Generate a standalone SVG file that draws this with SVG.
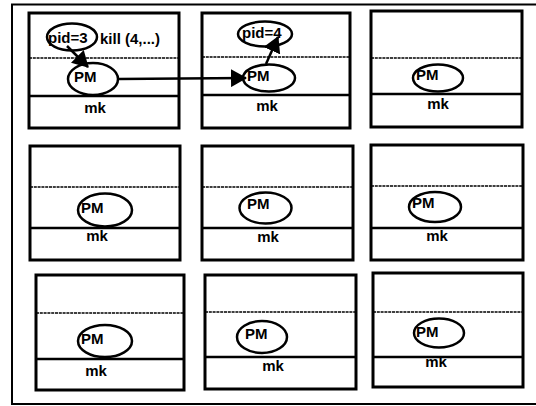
<svg xmlns="http://www.w3.org/2000/svg" width="536" height="406" viewBox="0 0 536 406">
<style>
.frame{fill:none;stroke:#000;stroke-width:2}
.box{fill:#fff;stroke:#000;stroke-width:3}
.dot{stroke:#000;stroke-width:1.6;stroke-dasharray:3 0.8}
.thick{stroke:#000;stroke-width:2.5}
.ell{fill:none;stroke:#000;stroke-width:2.5}
.t{font-family:"Liberation Sans",Arial,sans-serif;font-weight:bold;font-size:15px;fill:#000}
.mk{text-anchor:middle}
.conn{fill:none;stroke:#000;stroke-width:2.5}
</style>
<defs>
<marker id="ahBig" viewBox="0 0 16 18" markerWidth="16" markerHeight="18" refX="15" refY="9" orient="auto" markerUnits="userSpaceOnUse">
<path d="M0,0 L16,9 L0,18 Z" fill="#000"/>
</marker>
</defs>
<rect class="frame" x="12" y="4.5" width="540" height="399.5"/>

<g id="node-r1c1">
<rect class="box" x="29" y="13" width="150" height="115"/>
<line class="dot" x1="29" y1="58" x2="179" y2="58"/>
<line class="thick" x1="29" y1="96" x2="179" y2="96"/>
<ellipse class="ell" cx="72" cy="37" rx="25" ry="13.5"/>
<text class="t" x="48" y="43">pid=3</text>
<text class="t" x="100" y="44">kill (4,...)</text>
<ellipse class="ell" cx="93" cy="79" rx="25" ry="16"/>
<text class="t" x="74" y="82">PM</text>
<text class="t mk" x="95" y="113">mk</text>
</g>

<g id="node-r1c2">
<rect class="box" x="202" y="13" width="148" height="115"/>
<line class="dot" x1="202" y1="57" x2="350" y2="57"/>
<line class="thick" x1="202" y1="95" x2="350" y2="95"/>
<ellipse class="ell" cx="265" cy="34" rx="27" ry="12.5"/>
<text class="t" x="242" y="38">pid=4</text>
<ellipse class="ell" cx="269" cy="78" rx="26" ry="13.5"/>
<text class="t" x="247" y="81">PM</text>
<text class="t mk" x="267" y="111">mk</text>
</g>

<g id="node-r1c3">
<rect class="box" x="371" y="11" width="151" height="116"/>
<line class="dot" x1="371" y1="58" x2="522" y2="58"/>
<line class="thick" x1="371" y1="94" x2="522" y2="94"/>
<ellipse class="ell" cx="438" cy="78" rx="25" ry="13.5"/>
<text class="t" x="416" y="80">PM</text>
<text class="t mk" x="438" y="109">mk</text>
</g>

<g id="node-r2c1">
<rect class="box" x="30" y="146" width="150" height="114"/>
<line class="dot" x1="30" y1="187" x2="180" y2="187"/>
<line class="thick" x1="30" y1="228" x2="180" y2="228"/>
<ellipse class="ell" cx="105" cy="210" rx="27" ry="16.5"/>
<text class="t" x="81" y="213">PM</text>
<text class="t mk" x="97" y="241">mk</text>
</g>

<g id="node-r2c2">
<rect class="box" x="202" y="146" width="151" height="114"/>
<line class="dot" x1="202" y1="187" x2="353" y2="187"/>
<line class="thick" x1="202" y1="228" x2="353" y2="228"/>
<ellipse class="ell" cx="265.5" cy="208" rx="26" ry="15.5"/>
<text class="t" x="247" y="209">PM</text>
<text class="t mk" x="268" y="242">mk</text>
</g>

<g id="node-r2c3">
<rect class="box" x="371" y="145" width="152" height="115"/>
<line class="dot" x1="371" y1="186" x2="523" y2="186"/>
<line class="thick" x1="371" y1="228" x2="523" y2="228"/>
<ellipse class="ell" cx="435" cy="207" rx="26" ry="15"/>
<text class="t" x="412" y="208">PM</text>
<text class="t mk" x="437" y="241">mk</text>
</g>

<g id="node-r3c1">
<rect class="box" x="36" y="275" width="148" height="115"/>
<line class="dot" x1="36" y1="313" x2="184" y2="313"/>
<line class="thick" x1="36" y1="359" x2="184" y2="359"/>
<ellipse class="ell" cx="105" cy="341" rx="27" ry="16"/>
<text class="t" x="81" y="344">PM</text>
<text class="t mk" x="96" y="376">mk</text>
</g>

<g id="node-r3c2">
<rect class="box" x="205" y="275" width="151" height="114"/>
<line class="dot" x1="205" y1="312" x2="356" y2="312"/>
<line class="thick" x1="205" y1="357" x2="356" y2="357"/>
<ellipse class="ell" cx="262" cy="337" rx="25" ry="16"/>
<text class="t" x="245" y="339">PM</text>
<text class="t mk" x="273" y="371">mk</text>
</g>

<g id="node-r3c3">
<rect class="box" x="373" y="273" width="150" height="114"/>
<line class="dot" x1="373" y1="312" x2="523" y2="312"/>
<line class="thick" x1="373" y1="357" x2="523" y2="357"/>
<ellipse class="ell" cx="439" cy="333" rx="25" ry="14.5"/>
<text class="t" x="416" y="337">PM</text>
<text class="t mk" x="436" y="367">mk</text>
</g>

<g id="connectors">
<line class="conn" x1="67" y1="46" x2="88" y2="67" marker-end="url(#ahBig)"/>
<line class="conn" x1="118" y1="79" x2="246" y2="78" marker-end="url(#ahBig)"/>
<line class="conn" x1="266" y1="64" x2="278" y2="37" marker-end="url(#ahBig)"/>
</g>
</svg>
